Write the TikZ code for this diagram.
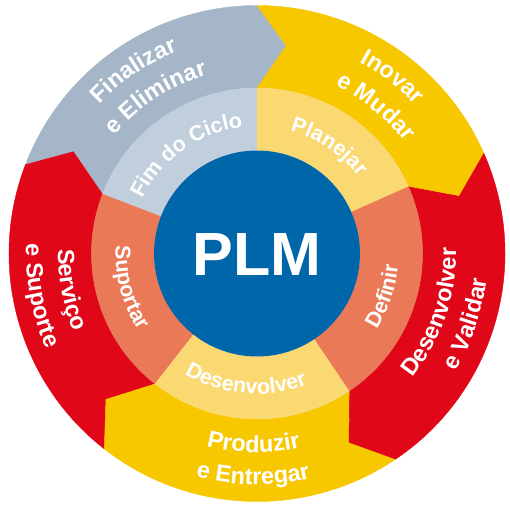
\documentclass[tikz,border=0pt]{standalone}
\usepackage{fontspec}
\setmainfont{Liberation Sans}
\usepackage{tikz}
\usepackage{xcolor}
\usetikzlibrary{decorations.text}

\definecolor{azulplm}{HTML}{0066AA}
\definecolor{cinza}{HTML}{A4B6C8}
\definecolor{cinzaclaro}{HTML}{C1CFDD}
\definecolor{amarelo}{HTML}{F7C700}
\definecolor{amareloclaro}{HTML}{FAD973}
\definecolor{vermelho}{HTML}{E00718}
\definecolor{salmao}{HTML}{EA7958}
\newcommand{\fonteext}{\fontsize{23.5}{28}\selectfont\bfseries}
\newcommand{\fonteint}{\fontsize{21.5}{26}\selectfont\bfseries}

\begin{document}
\begin{tikzpicture}[
    txtext/.style={decorate,decoration={text along path,text align=center,text color=white,text={|\fonteext|#1}}},
    txtint/.style={decorate,decoration={text along path,text align=center,text color=white,text={|\fonteint|#1}}}]
        \useasboundingbox (-257pt,-255.5pt) rectangle (253pt,253.5pt);
        %外圈
        \foreach \a/\b/\c in {90/159/cinza,159/232/vermelho,232/304/amarelo,304/384/vermelho,24/90/amarelo}{
        \filldraw[fill=\c,draw=\c,line width=0.4pt] (\b:248pt) arc[start angle=\b,end angle=\a,radius=248pt] -- ({\a-8}:210pt) -- (\a:165.5pt) arc[start angle=\a,end angle=\b,radius=165.5pt] -- ({\b-8}:210pt) -- cycle;
        }
        %中圈
        \foreach \a/\b/\c in {90/159/cinzaclaro,159/232/salmao,232/304/amareloclaro,304/384/salmao,24/90/amareloclaro}{
        \filldraw[fill=\c,draw=\c,line width=0.4pt] (\a:103pt) arc[start angle=\a,end angle=\b,radius=103pt] -- (\b:165.5pt) arc[start angle=\b,end angle=\a,radius=165.5pt] -- cycle;
        }
        %中心
        \fill[azulplm] (0,0) circle[radius=103pt];
        \node[text=white,font=\fontsize{61}{61}\selectfont\bfseries] (plm) at (0pt,-1.5pt) {PLM};
        %外圈文字
        \path[txtext=Finalizar] (164:217pt) arc[start angle=164,end angle=84,radius=217pt];
        \path[txtext=e Eliminar] (163:185pt) arc[start angle=163,end angle=83,radius=185pt];
        \path[txtext=Inovar] (92.5:217pt) arc[start angle=92.5,end angle=12.5,radius=217pt];
        \path[txtext=e Mudar] (91:185pt) arc[start angle=91,end angle=11,radius=185pt];
        \path[txtext=Desenvolver] (-58.5:199pt) arc[start angle=-58.5,end angle=21.5,radius=199pt];
        \path[txtext=e Validar] (-58.5:231pt) arc[start angle=-58.5,end angle=21.5,radius=231pt];
        \path[txtext=Produzir] (-131:199pt) arc[start angle=-131,end angle=-51,radius=199pt];
        \path[txtext=e Entregar] (-131:231pt) arc[start angle=-131,end angle=-51,radius=231pt];
        \path[txtext=Serviço] (151:199pt) arc[start angle=151,end angle=231,radius=199pt];
        \path[txtext=e Suporte] (151:231pt) arc[start angle=151,end angle=231,radius=231pt];
        %中圈文字
        \path[txtint=Fim do Ciclo] (175.5:127pt) arc[start angle=175.5,end angle=75.5,radius=127pt];
        \path[txtint=Planejar] (106:127pt) arc[start angle=106,end angle=6,radius=127pt];
        \path[txtint=Definir] (-68.5:141.5pt) arc[start angle=-68.5,end angle=31.5,radius=141.5pt];
        \path[txtint=Desenvolver] (-145:140.5pt) arc[start angle=-145,end angle=-45,radius=140.5pt];
        \path[txtint=Suportar] (145:141.5pt) arc[start angle=145,end angle=245,radius=141.5pt];
\end{tikzpicture}
\end{document}
